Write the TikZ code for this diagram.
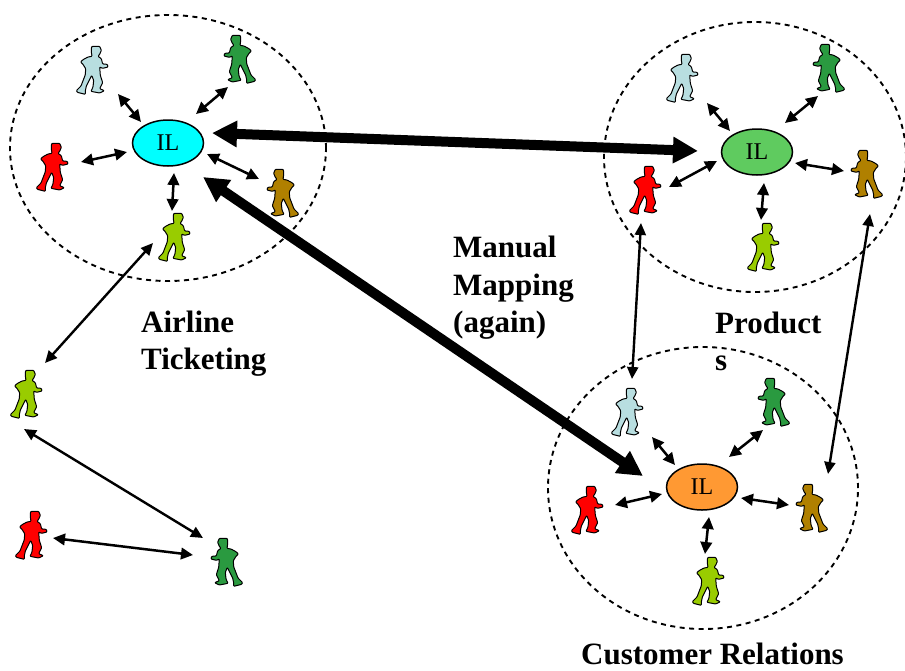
\documentclass[tikz,border=0pt]{standalone}
\usepackage{fontspec}
\setmainfont{Liberation Serif}
\usetikzlibrary{arrows.meta,shapes.geometric}
\definecolor{pblue}{HTML}{B8DEE0}
\definecolor{pgreen}{HTML}{2A9A40}
\definecolor{pred}{HTML}{FF0000}
\definecolor{pbrown}{HTML}{B08000}
\definecolor{plime}{HTML}{99CC00}
\definecolor{ilcyan}{HTML}{00FFFF}
\definecolor{ilgreen}{HTML}{5FCB5F}
\definecolor{ilorange}{HTML}{FF9933}
\tikzset{
  zone/.style={draw,dashed,dash pattern=on 5pt off 4.5pt,line width=1.9pt,shape=ellipse,inner sep=0pt},
  ilnode/.style={draw,line width=1.5pt,shape=ellipse,inner sep=0pt,minimum width=71pt,minimum height=46pt,font=\fontsize{24}{24}\selectfont},
  personbox/.style={inner sep=0pt,minimum width=32pt,minimum height=48pt},
  thinarr/.style={{Triangle[length=12pt,width=11.5pt]}-{Triangle[length=12pt,width=11.5pt]},line width=2.5pt},
  longarr/.style={{Triangle[length=12pt,width=11pt]}-{Triangle[length=12pt,width=11pt]},line width=2.4pt},
  thickarr/.style={{Triangle[length=25pt,width=25pt]}-{Triangle[length=25pt,width=25pt]},line width=10pt},
  lbl/.style={anchor=base west,inner sep=0pt,font=\fontsize{31}{31}\selectfont\bfseries},
}
\newcommand\personfig[5]{%
  \node[personbox] (#1) at (#2,#3) {};
  \draw[line width=1pt,line join=round,rounded corners=0.8pt,fill=#4,shift={(#1.center)},xscale=#5/3,yscale=1/3,shift={(-47,-74)}]
    (47,3) -- (70,3) -- (75,15) -- (70,27) -- (65,33) -- (75,40) -- (79,56) -- (93,57) -- (95,65) -- (79,69) -- (70,65)
    -- (72,90) -- (79,112) -- (70,130) -- (84,136) -- (70,143) -- (44,138) -- (50,125) -- (52,105) -- (46,90) -- (30,122) -- (27,137) -- (27,147) -- (3,141) -- (0,136)
    -- (14,122) -- (27,88) -- (28,70) -- (20,57) -- (13,50) -- (20,43) -- (35,35) -- (47,33) -- (45,20) -- (45,7) -- cycle;
}
\newcommand\conn[7]{\draw[#1] ([shift={(#3,#4)}]#2.center) -- ([shift={(#6,#7)}]#5.center);}
\begin{document}
\begin{tikzpicture}[x=1pt,y=-1pt]
\useasboundingbox[fill=white] (0,0) rectangle (905,670);
% zones
\node[zone,minimum width=316pt,minimum height=266pt] (zone1) at (168,148) {};
\node[zone,minimum width=302pt,minimum height=270pt] (zone2) at (755,157) {};
\node[zone,minimum width=310pt,minimum height=282pt] (zone3) at (703,488) {};
% IL nodes
\node[ilnode,fill=ilcyan] (il1) at (168,143) {IL};
\node[ilnode,fill=ilgreen] (il2) at (757,152) {IL};
\node[ilnode,fill=ilorange] (il3) at (702,487) {IL};
% people
\personfig{lb1}{92}{70}{pblue}{1}
\personfig{g1}{240}{59}{pgreen}{-1}
\personfig{r1}{52}{167}{pred}{1}
\personfig{br1}{283}{193}{pbrown}{-1}
\personfig{li1}{174}{237}{plime}{1}
\personfig{lb2}{682}{78}{pblue}{1}
\personfig{g2}{829}{68}{pgreen}{-1}
\personfig{r2}{645}{190}{pred}{1}
\personfig{br2}{867}{174}{pbrown}{-1}
\personfig{li2}{763}{247}{plime}{1}
\personfig{lb3}{627}{412}{pblue}{1}
\personfig{g3}{774}{402}{pgreen}{-1}
\personfig{r3}{587}{510}{pred}{1}
\personfig{br3}{812}{508}{pbrown}{-1}
\personfig{li3}{708}{581}{plime}{1}
\personfig{li0}{26}{394}{plime}{1}
\personfig{r0}{31}{535}{pred}{1}
\personfig{g0}{227}{562}{pgreen}{-1}
% connectors zone 1
\conn{thinarr}{lb1}{26}{24}{il1}{-27}{-21}
\conn{thinarr}{g1}{-12}{28}{il1}{28}{-29}
\conn{thinarr}{r1}{29}{-5}{il1}{-41}{9}
\conn{thinarr}{br1}{-24}{-14}{il1}{39}{11}
\conn{thinarr}{li1}{-2}{-26}{il1}{6}{30}
% connectors zone 2
\conn{thinarr}{lb2}{25}{25}{il2}{-27}{-21}
\conn{thinarr}{g2}{-11}{28}{il2}{28}{-29}
\conn{thinarr}{r2}{24}{-3}{il2}{-40}{9}
\conn{thinarr}{br2}{-23}{-3}{il2}{38}{11}
\conn{thinarr}{li2}{-2}{-27}{il2}{7}{31}
% connectors zone 3
\conn{thinarr}{lb3}{25}{25}{il3}{-27}{-22}
\conn{thinarr}{g3}{-11}{28}{il3}{27}{-30}
\conn{thinarr}{r3}{28}{-5}{il3}{-40}{7}
\conn{thinarr}{br3}{-23}{-3}{il3}{39}{11}
\conn{thinarr}{li3}{-3}{-27}{il3}{7}{30}
% long connectors
\conn{longarr}{li1}{-21}{6}{li0}{19}{-31}
\conn{longarr}{li0}{-2}{35}{g0}{-24}{-24}
\conn{thinarr}{r0}{22}{3}{g0}{-34}{-7}
\conn{longarr}{r2}{-4}{33}{lb3}{5}{-33}
\conn{longarr}{br2}{3}{40}{br3}{16}{-34}
\conn{thickarr}{il1}{44}{-10}{il2}{-59}{-1}
\conn{thickarr}{il1}{35}{34}{il3}{-59}{-11}
% labels
\node[lbl] (t1) at (453,257) {Manual};
\node[lbl] (t2) at (453,295) {Mapping};
\node[lbl] (t3) at (453,332) {(again)};
\node[lbl] (t4) at (141,332) {Airline};
\node[lbl] (t5) at (141,369) {Ticketing};
\node[lbl] (t6) at (715,333) {Product};
\node[lbl] (t7) at (715,370) {s};
\node[lbl] (t8) at (581,664) {Customer Relations};
\end{tikzpicture}
\end{document}
